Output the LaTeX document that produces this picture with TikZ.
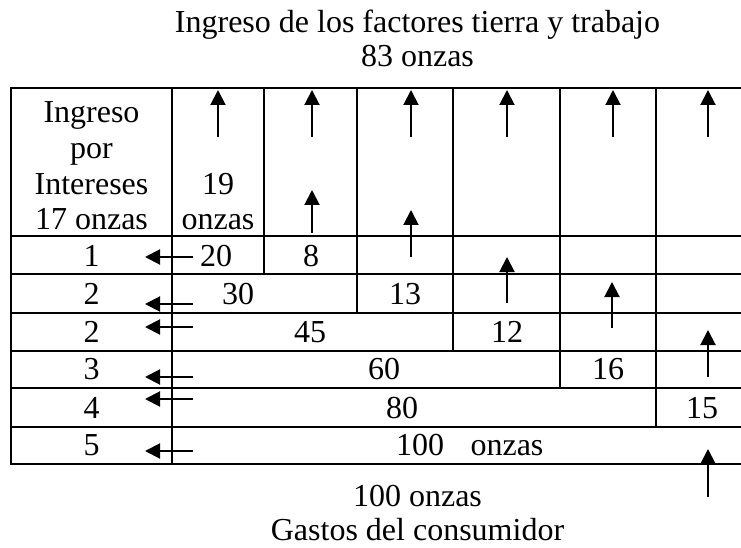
\documentclass[tikz,border=0pt]{standalone}
\usepackage{fontspec}
\setmainfont{Liberation Serif}
\usetikzlibrary{arrows.meta}
\begin{document}
\begin{tikzpicture}[x=1bp,y=-1bp,
  gridline/.style={line width=1.8bp,line cap=rect},
  arr/.style={line width=2bp,-{Triangle[width=15bp,length=15bp]}},
  txt/.style={anchor=base,inner sep=0pt,font=\fontsize{32bp}{35.7bp}\selectfont}]
\useasboundingbox (0,0) rectangle (741,548);
% table grid
\foreach \yy in {88,236,274,313,351,388,427,464}
  \draw[gridline] (11,\yy) -- (741,\yy);
\draw[gridline] (11,88) -- (11,464);
\draw[gridline] (172,88) -- (172,464);
\draw[gridline] (264,88) -- (264,274);
\draw[gridline] (357,88) -- (357,313);
\draw[gridline] (453,88) -- (453,351);
\draw[gridline] (560,88) -- (560,388);
\draw[gridline] (656,88) -- (656,427);
% titles
\node[txt] (t1) at (417.5,33) {Ingreso de los factores tierra y trabajo};
\node[txt] (t2) at (417.5,67) {83 onzas};
\node[txt] (b1) at (417.5,506) {100 onzas};
\node[txt] (b2) at (417.5,540) {Gastos del consumidor};
% header cells
\node[txt] (h1) at (91.5,123) {Ingreso};
\node[txt] (h2) at (91.5,159) {por};
\node[txt] (h3) at (91.5,195) {Intereses};
\node[txt] (h4) at (91.5,230) {17 onzas};
\node[txt] (h5) at (218,195) {19};
\node[txt] (h6) at (218,230) {onzas};
% rows
\node[txt] (r1a) at (91.5,267) {1};
\node[txt] (r1b) at (216,267) {20};
\node[txt] (r1c) at (311,267) {8};
\node[txt] (r2a) at (91.5,304) {2};
\node[txt] (r2b) at (238,304) {30};
\node[txt] (r2c) at (405,304) {13};
\node[txt] (r3a) at (91.5,342) {2};
\node[txt] (r3b) at (310,342) {45};
\node[txt] (r3c) at (507,342) {12};
\node[txt] (r4a) at (91.5,379) {3};
\node[txt] (r4b) at (384,379) {60};
\node[txt] (r4c) at (608,379) {16};
\node[txt] (r5a) at (91.5,418) {4};
\node[txt] (r5b) at (402,418) {80};
\node[txt] (r5c) at (702,418) {15};
\node[txt] (r6a) at (91.5,455) {5};
\node[txt] (r6b) at (420,455) {100};
\node[txt] (r6c) at (507,455) {onzas};
% up arrows in header
\foreach \n/\xx in {a/218,b/312,c/411,d/507,e/613,f/708}{
  \coordinate (u\n0) at (\xx,137);
  \coordinate (u\n1) at (\xx,90);
  \draw[arr] (u\n0) -- (u\n1);
}
% staircase up arrows
\coordinate (s10) at (312,233); \coordinate (s11) at (312,190);
\coordinate (s20) at (411,257); \coordinate (s21) at (411,210);
\coordinate (s30) at (507,303); \coordinate (s31) at (507,257);
\coordinate (s40) at (612,328); \coordinate (s41) at (612,282);
\coordinate (s50) at (708,377); \coordinate (s51) at (708,330);
\coordinate (s60) at (708,497); \coordinate (s61) at (708,449);
\foreach \i in {1,...,6}
  \draw[arr] (s\i0) -- (s\i1);
% left arrows
\foreach \i/\yy in {1/257,2/304,3/327,4/377,5/399,6/451}{
  \coordinate (l\i0) at (193,\yy);
  \coordinate (l\i1) at (145,\yy);
  \draw[arr] (l\i0) -- (l\i1);
}
\end{tikzpicture}
\end{document}
